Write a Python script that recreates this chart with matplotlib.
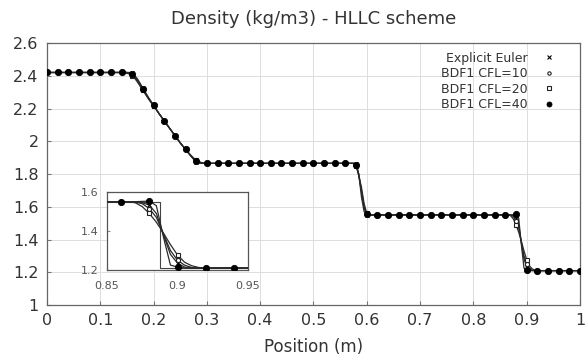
import numpy as np
import matplotlib
matplotlib.use("Agg")
import matplotlib.pyplot as plt
from matplotlib.lines import Line2D

# ---------------- data ----------------
x_pos = np.linspace(0.0, 1.0, 201)          # solution points (m), spacing 0.005

rho_left = 2.42
rho_star_left = 1.865
rho_star_right = 1.55
rho_right = 1.21

# rarefaction fan, x = 0.150 .. 0.290
rare_euler = [2.42, 2.42, 2.415, 2.40, 2.38, 2.352, 2.325, 2.297, 2.27, 2.245, 2.22, 2.195, 2.17, 2.147,
              2.125, 2.102, 2.08, 2.057, 2.035, 2.012, 1.99, 1.97, 1.95, 1.93, 1.91, 1.89, 1.875, 1.867, 1.865]
rare_cfl10 = [2.42, 2.415, 2.405, 2.39, 2.37, 2.345, 2.32, 2.292, 2.265, 2.242, 2.22, 2.195, 2.17, 2.147,
              2.125, 2.102, 2.08, 2.057, 2.035, 2.012, 1.99, 1.97, 1.95, 1.93, 1.91, 1.894, 1.88, 1.871, 1.866]
rare_cfl20 = [2.415, 2.41, 2.40, 2.383, 2.36, 2.335, 2.31, 2.285, 2.26, 2.237, 2.215, 2.192, 2.17, 2.147,
              2.125, 2.102, 2.08, 2.057, 2.035, 2.012, 1.99, 1.97, 1.95, 1.932, 1.915, 1.898, 1.885, 1.876, 1.87]
rare_cfl40 = [2.42, 2.418, 2.41, 2.39, 2.37, 2.345, 2.32, 2.292, 2.265, 2.242, 2.22, 2.195, 2.17, 2.147,
              2.125, 2.102, 2.08, 2.057, 2.035, 2.012, 1.99, 1.97, 1.95, 1.93, 1.91, 1.893, 1.88, 1.872, 1.868]

# contact discontinuity, x = 0.580 .. 0.605
cont_euler = [1.86, 1.80, 1.66, 1.57, 1.552, 1.55]
cont_cfl10 = [1.855, 1.79, 1.69, 1.59, 1.555, 1.55]
cont_cfl20 = [1.85, 1.79, 1.72, 1.62, 1.56, 1.551]
cont_cfl40 = [1.855, 1.80, 1.70, 1.60, 1.555, 1.55]

# shock, x = 0.865 .. 0.915
shock_euler = [1.55, 1.55, 1.545, 1.533, 1.49, 1.38, 1.28, 1.235, 1.215, 1.21, 1.21]
shock_cfl10 = [1.55, 1.549, 1.54, 1.515, 1.47, 1.385, 1.30, 1.25, 1.225, 1.213, 1.21]
shock_cfl20 = [1.55, 1.545, 1.525, 1.49, 1.445, 1.39, 1.33, 1.277, 1.24, 1.222, 1.213]
shock_cfl40 = [1.55, 1.55, 1.552, 1.553, 1.53, 1.37, 1.225, 1.215, 1.211, 1.21, 1.21]

# exact solution near the shock (reference line in the zoom)
x_exact = [0.85, 0.8875, 0.8875, 0.95]
rho_exact = [1.55, 1.55, 1.21, 1.21]

labels = ["Explicit Euler", "BDF1 CFL=10", "BDF1 CFL=20", "BDF1 CFL=40"]

xticks = [0, 0.1, 0.2, 0.3, 0.4, 0.5, 0.6, 0.7, 0.8, 0.9, 1.0]
xtick_labels = ["0", "0.1", "0.2", "0.3", "0.4", "0.5", "0.6", "0.7", "0.8", "0.9", "1"]
yticks = [1.0, 1.2, 1.4, 1.6, 1.8, 2.0, 2.2, 2.4, 2.6]
ytick_labels = ["1", "1.2", "1.4", "1.6", "1.8", "2", "2.2", "2.4", "2.6"]
inset_xticks = [0.85, 0.9, 0.95]
inset_xtick_labels = ["0.85", "0.9", "0.95"]
inset_yticks = [1.2, 1.4, 1.6]
inset_ytick_labels = ["1.2", "1.4", "1.6"]


def build(rare, cont, shock):
    return np.array([rho_left] * 30 + rare + [rho_star_left] * 57 + cont
                    + [rho_star_right] * 51 + shock + [rho_right] * 17)


series = [build(rare_euler, cont_euler, shock_euler),
          build(rare_cfl10, cont_cfl10, shock_cfl10),
          build(rare_cfl20, cont_cfl20, shock_cfl20),
          build(rare_cfl40, cont_cfl40, shock_cfl40)]

styles = [dict(marker="x", ms=3.0, mfc="black", mec="black", mew=0.8),
          dict(marker="o", ms=3.0, mfc="white", mec="#222222", mew=0.8),
          dict(marker="s", ms=3.0, mfc="white", mec="#222222", mew=0.8),
          dict(marker="o", ms=4.5, mfc="black", mec="black", mew=0.6)]

# ---------------- figure ----------------
fig = plt.figure(figsize=(5.85, 3.59), dpi=100)
ax = fig.add_axes([0.0803, 0.1504, 0.9111, 0.7298])

text_col = "#333333"
line_col = "#2a2a2a"


def draw(a, exact=False):
    if exact:
        a.plot(x_exact, rho_exact, color="#444444", lw=0.8, zorder=2)
    for y, st in zip(series, styles):
        a.plot(x_pos, y, color=line_col, lw=0.9, zorder=3)
        a.plot(x_pos, y, ls="none", markevery=4, zorder=4, **st)


draw(ax)
ax.set_xlim(0, 1)
ax.set_ylim(1.0, 2.6)
ax.set_xticks(xticks)
ax.set_xticklabels(xtick_labels)
ax.set_yticks(yticks)
ax.set_yticklabels(ytick_labels)
ax.grid(True, color="#dddddd", lw=0.7)
ax.set_axisbelow(True)
ax.tick_params(direction="in", length=3, colors="#777777", labelcolor=text_col,
               labelsize=11.5, pad=6)
for s in ax.spines.values():
    s.set_color("#666666")
    s.set_linewidth(0.9)

fig.text(0.5359, 1 - 19 / 359, "Density (kg/m3) - HLLC scheme", fontsize=13,
         color=text_col, ha="center", va="center")
ax.set_xlabel("Position (m)", fontsize=12, color=text_col)
ax.xaxis.set_label_coords(0.5, -(347 - 305) / 262)
ax.xaxis.label.set_va("center")

handles = [Line2D([], [], ls="none", **dict(st, ms=st["ms"] * 0.8)) for st in styles]
leg = ax.legend(handles, labels, loc="upper right", frameon=False, markerfirst=False,
                fontsize=9, labelspacing=0.2, handlelength=1.0, handletextpad=1.2,
                bbox_to_anchor=(0.967, 0.995), borderaxespad=0.2)
for t in leg.get_texts():
    t.set_color(text_col)

# ---------------- inset ----------------
ins = fig.add_axes([107 / 585, 1 - 270 / 359, 141 / 585, 78 / 359])
ins.set_facecolor("white")
draw(ins, exact=True)
ins.set_xlim(0.85, 0.95)
ins.set_ylim(1.2, 1.6)
ins.set_xticks(inset_xticks)
ins.set_xticklabels(inset_xtick_labels)
ins.set_yticks(inset_yticks)
ins.set_yticklabels(inset_ytick_labels)
ins.tick_params(direction="in", length=2, colors="#888888", labelcolor="#555555",
                labelsize=8, pad=6)
ins.tick_params(axis="x", pad=8)
for s in ins.spines.values():
    s.set_color("#555555")
    s.set_linewidth(0.9)

fig.savefig("out.png", dpi=100)
